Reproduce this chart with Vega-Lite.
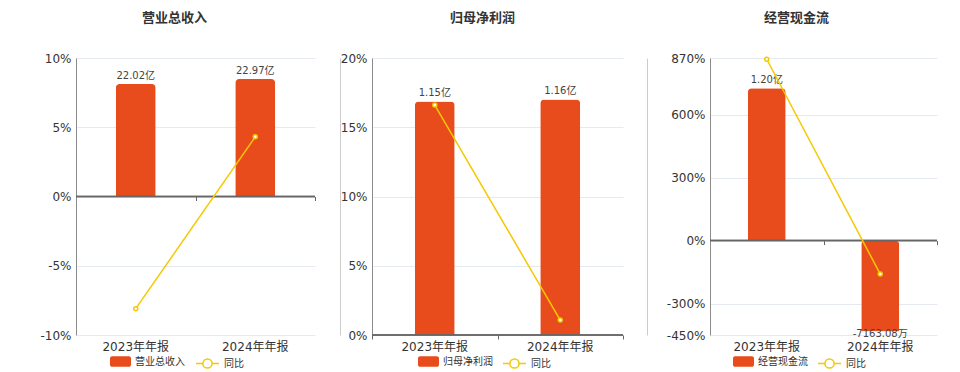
{
  "$schema": "https://vega.github.io/schema/vega-lite/v6.json",
  "padding": {"left": 5, "top": 12, "right": 5, "bottom": 0},
  "background": "white",
  "spacing": 0,
  "config": {
    "font": "DejaVu Sans, Noto Sans CJK SC",
    "view": {"stroke": null},
    "axis": {"labelFont": "DejaVu Sans, Noto Sans CJK SC", "labelFontSize": 12, "labelColor": "#333333"},
    "legend": {"labelFont": "DejaVu Sans, Noto Sans CJK SC", "labelFontSize": 10, "labelColor": "#333333"},
    "title": {"font": "Noto Sans CJK SC", "fontSize": 13, "fontWeight": "bold", "color": "#333333", "offset": 27, "anchor": "middle"},
    "text": {"font": "DejaVu Sans, Noto Sans CJK SC"}
  },
  "resolve": {"scale": {"fill": "independent", "stroke": "independent"}, "legend": {"fill": "independent", "stroke": "independent"}},
  "hconcat": [
    {
      "width": 239, "height": 277,
      "title": {"text": "营业总收入", "dx": -21},
      "data": {"values": [
        {"period": "2023年年报", "value": 22.02, "label": "22.02亿", "yoy": -8.1},
        {"period": "2024年年报", "value": 22.97, "label": "22.97亿", "yoy": 4.31}
      ]},
      "resolve": {"scale": {"y": "independent"}, "axis": {"x": "independent"}},
      "layer": [
        {
          "encoding": {
            "x": {"field": "period", "type": "nominal", "sort": null, "scale": {"paddingInner": 0, "paddingOuter": 0},
                  "axis": {"orient": "bottom", "labelAngle": 0, "ticks": false, "domain": false, "labelPadding": 6, "title": null}},
            "y": {"field": "value", "type": "quantitative", "scale": {"domain": [-27.1, 27.1], "nice": false, "zero": false},
                  "axis": {"orient": "right", "offset": 25, "labels": false, "ticks": false, "grid": false, "domain": true, "domainColor": "#cccccc", "title": null}}
          },
          "layer": [
            {"mark": {"type": "bar", "size": 40, "cornerRadiusEnd": 4},
             "encoding": {"fill": {"datum": "营业总收入", "scale": {"range": ["#e84c1d"]},
               "legend": {"orient": "none", "legendX": 34, "legendY": 293, "title": null, "symbolType": "M-0.8,-0.5H0.8A0.2,0.2 0 0 1 1,-0.3V0.3A0.2,0.2 0 0 1 0.8,0.5H-0.8A0.2,0.2 0 0 1 -1,0.3V-0.3A0.2,0.2 0 0 1 -0.8,-0.5Z", "symbolSize": 441, "symbolStrokeWidth": 0, "labelOffset": 4}}}},
            {"transform": [{"filter": "datum.value >= 0"}],
             "mark": {"type": "text", "baseline": "bottom", "dy": -3, "fontSize": 10, "color": "#444444"},
             "encoding": {"text": {"field": "label"}}},
            {"transform": [{"filter": "datum.value < 0"}],
             "mark": {"type": "text", "baseline": "top", "dy": -2, "fontSize": 10, "color": "#444444"},
             "encoding": {"text": {"field": "label"}}}
          ]
        },
        {
          "layer": [
            {"mark": {"type": "rule", "color": "#666666", "strokeWidth": 1.5},
             "encoding": {"y": {"datum": 0, "type": "quantitative", "scale": {"domain": [-10, 10], "nice": false, "zero": false},
               "axis": {"orient": "left", "values": [-10, -5, 0, 5, 10], "labelExpr": "datum.value + '%'", "grid": true, "ticks": false, "domainColor": "#8c8c8c", "gridColor": "#e5e9f2", "labelPadding": 5, "minExtent": 71, "maxExtent": 71, "title": null}}}},
            {"mark": {"type": "line", "strokeWidth": 1.5},
             "encoding": {
               "x": {"field": "period", "type": "nominal", "sort": null,
                     "axis": {"orient": "bottom", "offset": -138.5, "labels": false, "domain": false, "ticks": true, "tickBand": "extent", "tickSize": 4, "tickColor": "#666666", "grid": false, "title": null}},
               "y": {"field": "yoy", "type": "quantitative", "scale": {"domain": [-10, 10], "nice": false, "zero": false},
               "axis": {"orient": "left", "values": [-10, -5, 0, 5, 10], "labelExpr": "datum.value + '%'", "grid": true, "ticks": false, "domainColor": "#8c8c8c", "gridColor": "#e5e9f2", "labelPadding": 5, "minExtent": 71, "maxExtent": 71, "title": null}},
               "stroke": {"datum": "同比", "scale": {"range": ["#f5c800"]},
                 "legend": {"orient": "none", "legendX": 119, "legendY": 293, "title": null, "symbolType": "M-1,0H-0.4M0.4,0H1M-0.4,0A0.4,0.4 0 1 1 0.4,0A0.4,0.4 0 1 1 -0.4,0", "symbolSize": 529, "symbolStrokeWidth": 1.5, "symbolFillColor": "white", "labelOffset": 4}}}},
            {"mark": {"type": "point", "filled": true, "fill": "white", "stroke": "#f5c800", "strokeWidth": 1.5, "size": 16, "opacity": 1},
             "encoding": {
               "x": {"field": "period", "type": "nominal", "sort": null,
                     "axis": {"orient": "bottom", "offset": -138.5, "labels": false, "domain": false, "ticks": true, "tickBand": "extent", "tickSize": 4, "tickColor": "#666666", "grid": false, "title": null}},
               "y": {"field": "yoy", "type": "quantitative", "scale": {"domain": [-10, 10], "nice": false, "zero": false},
               "axis": {"orient": "left", "values": [-10, -5, 0, 5, 10], "labelExpr": "datum.value + '%'", "grid": true, "ticks": false, "domainColor": "#8c8c8c", "gridColor": "#e5e9f2", "labelPadding": 5, "minExtent": 71, "maxExtent": 71, "title": null}}}}
          ]
        }
      ]
    },
    {
      "width": 251, "height": 277,
      "title": {"text": "归母净利润", "dx": -15},
      "data": {"values": [
        {"period": "2023年年报", "value": 1.15, "label": "1.15亿", "yoy": 16.6},
        {"period": "2024年年报", "value": 1.16, "label": "1.16亿", "yoy": 1.08}
      ]},
      "resolve": {"scale": {"y": "independent"}, "axis": {"x": "independent"}},
      "layer": [
        {
          "encoding": {
            "x": {"field": "period", "type": "nominal", "sort": null, "scale": {"paddingInner": 0, "paddingOuter": 0},
                  "axis": {"orient": "bottom", "labelAngle": 0, "ticks": false, "domain": false, "labelPadding": 6, "title": null}},
            "y": {"field": "value", "type": "quantitative", "scale": {"domain": [0, 1.364], "nice": false, "zero": false},
                  "axis": {"orient": "right", "offset": 24, "labels": false, "ticks": false, "grid": false, "domain": true, "domainColor": "#cccccc", "title": null}}
          },
          "layer": [
            {"mark": {"type": "bar", "size": 40, "cornerRadiusEnd": 4},
             "encoding": {"fill": {"datum": "归母净利润", "scale": {"range": ["#e84c1d"]},
               "legend": {"orient": "none", "legendX": 46, "legendY": 293, "title": null, "symbolType": "M-0.8,-0.5H0.8A0.2,0.2 0 0 1 1,-0.3V0.3A0.2,0.2 0 0 1 0.8,0.5H-0.8A0.2,0.2 0 0 1 -1,0.3V-0.3A0.2,0.2 0 0 1 -0.8,-0.5Z", "symbolSize": 441, "symbolStrokeWidth": 0, "labelOffset": 4}}}},
            {"transform": [{"filter": "datum.value >= 0"}],
             "mark": {"type": "text", "baseline": "bottom", "dy": -3, "fontSize": 10, "color": "#444444"},
             "encoding": {"text": {"field": "label"}}},
            {"transform": [{"filter": "datum.value < 0"}],
             "mark": {"type": "text", "baseline": "top", "dy": -2, "fontSize": 10, "color": "#444444"},
             "encoding": {"text": {"field": "label"}}}
          ]
        },
        {
          "layer": [
            {"mark": {"type": "rule", "color": "#666666", "strokeWidth": 1.5},
             "encoding": {"y": {"datum": 0, "type": "quantitative", "scale": {"domain": [0, 20], "nice": false, "zero": false},
               "axis": {"orient": "left", "values": [0, 5, 10, 15, 20], "labelExpr": "datum.value + '%'", "grid": true, "ticks": false, "domainColor": "#8c8c8c", "gridColor": "#e5e9f2", "labelPadding": 5, "minExtent": 29, "maxExtent": 29, "title": null}}}},
            {"mark": {"type": "line", "strokeWidth": 1.5},
             "encoding": {
               "x": {"field": "period", "type": "nominal", "sort": null,
                     "axis": {"orient": "bottom", "offset": 0, "labels": false, "domain": false, "ticks": true, "tickBand": "extent", "tickSize": 4, "tickColor": "#666666", "grid": false, "title": null}},
               "y": {"field": "yoy", "type": "quantitative", "scale": {"domain": [0, 20], "nice": false, "zero": false},
               "axis": {"orient": "left", "values": [0, 5, 10, 15, 20], "labelExpr": "datum.value + '%'", "grid": true, "ticks": false, "domainColor": "#8c8c8c", "gridColor": "#e5e9f2", "labelPadding": 5, "minExtent": 29, "maxExtent": 29, "title": null}},
               "stroke": {"datum": "同比", "scale": {"range": ["#f5c800"]},
                 "legend": {"orient": "none", "legendX": 130, "legendY": 293, "title": null, "symbolType": "M-1,0H-0.4M0.4,0H1M-0.4,0A0.4,0.4 0 1 1 0.4,0A0.4,0.4 0 1 1 -0.4,0", "symbolSize": 529, "symbolStrokeWidth": 1.5, "symbolFillColor": "white", "labelOffset": 4}}}},
            {"mark": {"type": "point", "filled": true, "fill": "white", "stroke": "#f5c800", "strokeWidth": 1.5, "size": 16, "opacity": 1},
             "encoding": {
               "x": {"field": "period", "type": "nominal", "sort": null,
                     "axis": {"orient": "bottom", "offset": 0, "labels": false, "domain": false, "ticks": true, "tickBand": "extent", "tickSize": 4, "tickColor": "#666666", "grid": false, "title": null}},
               "y": {"field": "yoy", "type": "quantitative", "scale": {"domain": [0, 20], "nice": false, "zero": false},
               "axis": {"orient": "left", "values": [0, 5, 10, 15, 20], "labelExpr": "datum.value + '%'", "grid": true, "ticks": false, "domainColor": "#8c8c8c", "gridColor": "#e5e9f2", "labelPadding": 5, "minExtent": 29, "maxExtent": 29, "title": null}}}}
          ]
        }
      ]
    },
    {
      "width": 227, "height": 277,
      "title": {"text": "经营现金流", "dx": -27},
      "data": {"values": [
        {"period": "2023年年报", "value": 12000, "label": "1.20亿", "yoy": 864},
        {"period": "2024年年报", "value": -7163.08, "label": "-7163.08万", "yoy": -159.7}
      ]},
      "resolve": {"scale": {"y": "independent"}, "axis": {"x": "independent"}},
      "layer": [
        {
          "encoding": {
            "x": {"field": "period", "type": "nominal", "sort": null, "scale": {"paddingInner": 0, "paddingOuter": 0},
                  "axis": {"orient": "bottom", "labelAngle": 0, "ticks": false, "domain": false, "labelPadding": 6, "title": null}},
            "y": {"field": "value", "type": "quantitative", "scale": {"domain": [-7441, 14387], "nice": false, "zero": false}, "axis": null}
          },
          "layer": [
            {"mark": {"type": "bar", "size": 38, "cornerRadiusEnd": 4},
             "encoding": {"fill": {"datum": "经营现金流", "scale": {"range": ["#e84c1d"]},
               "legend": {"orient": "none", "legendX": 23, "legendY": 293, "title": null, "symbolType": "M-0.8,-0.5H0.8A0.2,0.2 0 0 1 1,-0.3V0.3A0.2,0.2 0 0 1 0.8,0.5H-0.8A0.2,0.2 0 0 1 -1,0.3V-0.3A0.2,0.2 0 0 1 -0.8,-0.5Z", "symbolSize": 441, "symbolStrokeWidth": 0, "labelOffset": 4}}}},
            {"transform": [{"filter": "datum.value >= 0"}],
             "mark": {"type": "text", "baseline": "bottom", "dy": -3, "fontSize": 10, "color": "#444444"},
             "encoding": {"text": {"field": "label"}}},
            {"transform": [{"filter": "datum.value < 0"}],
             "mark": {"type": "text", "baseline": "top", "dy": -2, "fontSize": 10, "color": "#444444"},
             "encoding": {"text": {"field": "label"}}}
          ]
        },
        {
          "layer": [
            {"mark": {"type": "rule", "color": "#666666", "strokeWidth": 1.5},
             "encoding": {"y": {"datum": 0, "type": "quantitative", "scale": {"domain": [-450, 870], "nice": false, "zero": false},
               "axis": {"orient": "left", "values": [-450, -300, 0, 300, 600, 870], "labelExpr": "datum.value + '%'", "grid": true, "ticks": false, "domainColor": "#8c8c8c", "gridColor": "#e5e9f2", "labelPadding": 5, "minExtent": 63, "maxExtent": 63, "title": null}}}},
            {"mark": {"type": "line", "strokeWidth": 1.5},
             "encoding": {
               "x": {"field": "period", "type": "nominal", "sort": null,
                     "axis": {"orient": "bottom", "offset": -94.4, "labels": false, "domain": false, "ticks": true, "tickBand": "extent", "tickSize": 4, "tickColor": "#666666", "grid": false, "title": null}},
               "y": {"field": "yoy", "type": "quantitative", "scale": {"domain": [-450, 870], "nice": false, "zero": false},
               "axis": {"orient": "left", "values": [-450, -300, 0, 300, 600, 870], "labelExpr": "datum.value + '%'", "grid": true, "ticks": false, "domainColor": "#8c8c8c", "gridColor": "#e5e9f2", "labelPadding": 5, "minExtent": 63, "maxExtent": 63, "title": null}},
               "stroke": {"datum": "同比", "scale": {"range": ["#f5c800"]},
                 "legend": {"orient": "none", "legendX": 107, "legendY": 293, "title": null, "symbolType": "M-1,0H-0.4M0.4,0H1M-0.4,0A0.4,0.4 0 1 1 0.4,0A0.4,0.4 0 1 1 -0.4,0", "symbolSize": 529, "symbolStrokeWidth": 1.5, "symbolFillColor": "white", "labelOffset": 4}}}},
            {"mark": {"type": "point", "filled": true, "fill": "white", "stroke": "#f5c800", "strokeWidth": 1.5, "size": 16, "opacity": 1},
             "encoding": {
               "x": {"field": "period", "type": "nominal", "sort": null,
                     "axis": {"orient": "bottom", "offset": -94.4, "labels": false, "domain": false, "ticks": true, "tickBand": "extent", "tickSize": 4, "tickColor": "#666666", "grid": false, "title": null}},
               "y": {"field": "yoy", "type": "quantitative", "scale": {"domain": [-450, 870], "nice": false, "zero": false},
               "axis": {"orient": "left", "values": [-450, -300, 0, 300, 600, 870], "labelExpr": "datum.value + '%'", "grid": true, "ticks": false, "domainColor": "#8c8c8c", "gridColor": "#e5e9f2", "labelPadding": 5, "minExtent": 63, "maxExtent": 63, "title": null}}}}
          ]
        }
      ]
    }
  ]
}
